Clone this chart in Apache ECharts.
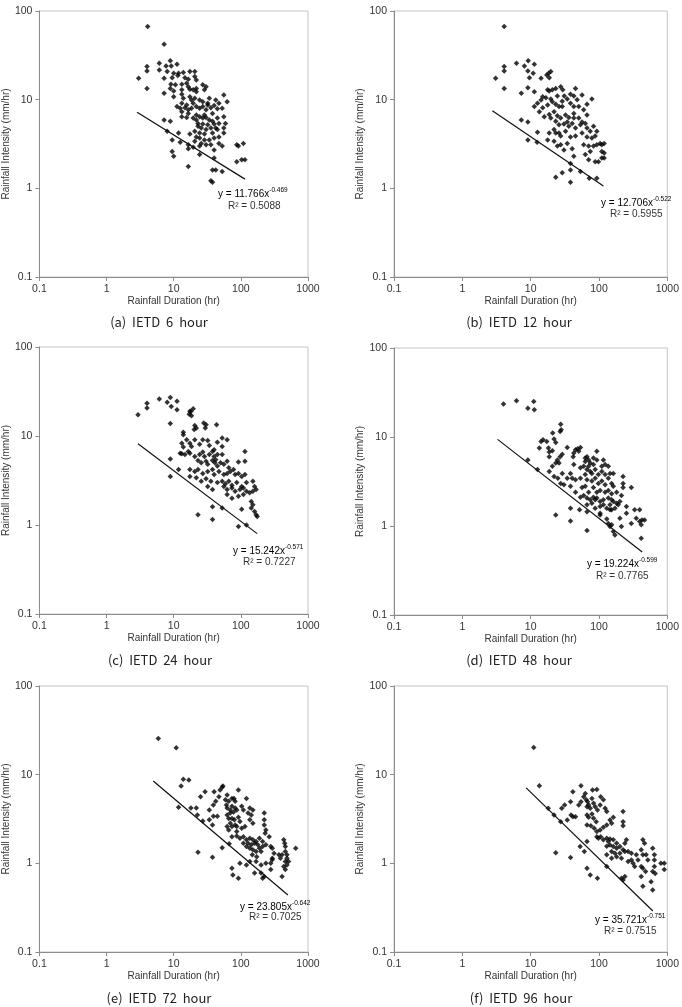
<!DOCTYPE html>
<html><head><meta charset="utf-8">
<script src="https://cdn.jsdelivr.net/npm/echarts@6/dist/echarts.min.js"></script>
<style>html,body{margin:0;padding:0;background:#fff;}#c{width:682px;height:1007px;}</style>
</head><body><div id="c"></div>
<script>
// ---- tick labels / texts ----
const xTicks = [0.1, 1, 10, 100, 1000];
const yTicks = [0.1, 1, 10, 100];
const xTitle = 'Rainfall Duration (hr)';
const yTitle = 'Rainfall Intensity (mm/hr)';
const captions = ['(a)  IETD  6  hour', '(b)  IETD  12  hour', '(c)  IETD  24  hour', '(d)  IETD  48  hour', '(e)  IETD  72  hour', '(f)  IETD  96  hour'];
const eqCoef = ['11.766', '12.706', '15.242', '19.224', '23.805', '35.721'];
const eqExp = ['-0.469', '-0.522', '-0.571', '-0.599', '-0.642', '-0.751'];
const r2 = ['0.5088', '0.5955', '0.7227', '0.7765', '0.7025', '0.7515'];

// ---- series values [duration (hr), intensity (mm/hr)] ----
const ietd6 = [[4.1,66.7],[7.2,42.2],[6.1,25.7],[6.1,21.6],[4.0,23.6],[4.0,21.1],[3.0,17.4],[4.0,13.4],[7.2,17.4],[7.2,11.8],
[8.9,27.4],[11.2,25.1],[7.7,24.0],[9.2,24.0],
[8.0,20.8],[10.0,19.9],[11.8,19.9],[13.9,20.2],[17.4,20.8],[20.6,20.8],[9.5,17.7],[11.5,18.7],[14.7,17.7],[16.5,17.0],[20.6,18.2],[21.7,16.7],
[9.1,14.9],[10.6,14.7],[13.2,14.9],[15.6,15.3],[16.5,14.0],[17.4,13.1],[19.5,12.9],[21.7,13.4],[27.1,14.7],[30.3,14.0],[28.7,12.9],[8.9,13.4],[10.0,12.5],[13.2,12.9],[21.7,12.3],
[10.0,10.8],[13.2,11.5],[13.9,10.4],[17.4,10.8],[18.4,9.9],[20.6,10.4],[24.3,9.9],[27.1,9.5],[32.1,9.1],[33.9,10.4],[42.3,9.9],[47.2,9.1],[55.8,11.3],[62.4,9.5],[13.2,9.1],[15.6,8.7],[19.5,9.1],
[11.2,8.4],[12.5,8.0],[14.7,8.1],[16.5,7.7],[18.4,8.0],[21.7,8.4],[24.3,8.0],[27.1,8.4],[30.3,7.7],[32.1,8.7],[35.8,8.1],[40.0,8.6],[44.7,7.9],[52.7,8.0],[13.2,7.3],[16.5,7.0],[21.7,6.7],[28.7,6.7],[37.8,7.0],
[13.2,6.4],[15.6,6.3],[19.5,6.2],[21.7,5.9],[24.3,6.4],[27.1,6.2],[30.3,6.3],[33.9,5.9],[37.8,5.7],[44.7,6.2],[55.8,6.4],[23.0,5.4],[27.1,5.3],[32.1,5.2],[40.0,5.3],[47.2,5.4],[59.0,5.4],
[23.0,5.0],[25.7,4.8],[30.3,4.6],[35.8,4.8],[42.3,4.8],[44.7,4.6],[55.8,4.8],[20.6,4.4],[24.3,4.2],[28.7,4.1],[37.8,4.2],[55.8,4.2],[11.8,4.2],[17.4,4.1],[8.9,5.7],[7.2,5.9],[8.0,4.4],
[21.7,3.8],[24.3,3.7],[28.7,3.5],[33.9,3.5],[40.0,3.7],[47.2,3.8],[20.6,3.4],[25.7,3.2],[30.3,3.1],[35.8,3.1],[47.2,3.2],[52.7,3.0],[24.3,3.0],[9.5,3.5],[12.5,3.3],[16.5,3.1],[19.5,2.9],
[9.5,2.6],[10.0,2.3],[16.5,2.8],[16.5,1.76],[24.3,2.4],[40.0,2.7],[40.0,2.2],[37.8,1.61],[42.3,1.61],[52.7,1.55],[35.8,1.22],[37.8,1.17],[86.9,3.1],[109,3.2],[91.8,3.0],[103,2.1],[115,2.1],[86.9,2.0]];

const ietd12 = [[4.1,66.7],[4.1,23.6],[4.1,21.1],[3.07,17.4],[4.1,13.4],[6.2,25.7],
[8.1,24.0],[9.2,27.4],[9.1,21.1],[11.3,25.1],[10.9,19.9],[9.6,17.7],[9.1,13.6],[7.3,11.8],
[14.2,17.4],[17.2,19.0],[18.7,17.7],[18.3,19.9],[19.7,20.8],
[11.3,12.3],[15.0,10.8],[14.2,9.9],[17.7,12.9],[20.8,12.9],[18.7,12.5],[23.3,13.4],[27.5,14.0],[29.5,12.9],[45.3,13.4],[31.0,11.0],
[11.3,8.4],[12.6,9.1],[15.0,8.1],[17.7,8.7],[20.8,9.5],[23.3,8.9],[26.0,8.4],[29.0,9.6],[34.3,10.2],[38.3,9.1],[42.8,8.4],[47.9,10.0],[56.5,11.3],[66.7,8.9],[78.7,10.2],
[13.4,7.3],[15.8,6.4],[18.7,6.8],[22.0,7.3],[24.6,6.6],[27.5,6.2],[32.4,6.7],[36.2,6.3],[42.8,7.0],[50.6,6.2],[59.7,7.7],[66.7,6.7],
[7.3,5.9],[9.1,5.6],
[23.3,5.7],[26.0,5.2],[30.7,5.3],[36.2,5.0],[40.5,5.4],[45.3,4.8],[53.5,5.2],[66.7,4.8],[83.2,5.0],[92.9,4.4],
[18.7,4.2],[23.3,4.2],[27.5,3.9],[32.4,4.4],[38.3,3.8],[45.3,3.9],[56.5,4.2],[66.7,3.8],[78.7,3.7],[87.9,3.9],[104,3.2],[110,3.1],
[12.6,4.3],[9.1,3.5],[12.4,3.3],
[17.7,3.5],[22.0,3.4],[24.6,3.0],[27.5,3.1],[34.3,3.2],[40.5,2.8],[59.7,3.1],[70.5,3.0],[83.2,3.0],[92.9,3.1],[74.5,2.6],[63.1,2.4],[70.5,2.1],[87.9,2.0],[110,2.2],[110,2.6],
[30.7,2.7],[42.8,2.3],[38.3,1.9],[98.2,2.0],
[23.3,1.33],[29,1.50],[38.3,1.61],[38.3,1.17],[53.5,1.55],[72,1.3],[92.9,1.30],[119,3.2],[119,2.5],[119,2.2],
[16.7,10.5],[19.7,10.2],[24.6,11.0],[38.3,11.5],[42.8,11.0],[50.6,8.4],[56.5,5.6],[63.1,5.4],[74.5,4.4],[34.3,5.6],[26.0,4.2],[22.0,4.6],[29.0,8.4],[19.7,6.2],[42.8,6.2]];

const ietd24 = [[2.94,17.3],[4.0,23.3],[4.0,20.6],[6.1,26.0],
[8.0,24.0],[8.9,27.0],[9.2,21.5],[11.2,24.5],[11.2,19.7],[8.9,13.8],
[17.0,17.5],[18.0,18.8],[19.5,20.2],[18.4,16.9],[17.4,19.0],
[13.9,11.0],[13.9,10.3],[15.6,9.1],[20.6,13.1],[21.7,12.3],[20.2,11.8],[28.0,14.0],[30.3,13.4],[29.5,12.3],[43.5,13.4],
[13.2,8.3],[13.9,7.5],[17.4,8.3],[18.4,7.6],[16.5,6.7],[20.6,9.1],[24.3,8.1],[27.1,9.1],[32.1,8.9],[33.9,7.8],[40.0,7.0],[44.7,8.5],[52.7,9.5],[52.7,7.6],[62.4,9.1],
[12.5,6.4],[13.2,6.3],[14.7,6.2],[17.4,6.4],[20.6,5.9],[24.3,6.2],[27.1,6.6],[28.7,5.9],[33.9,6.2],[37.8,6.7],[40.0,5.9],[44.7,6.2],[52.7,6.2],
[23.0,5.3],[25.7,5.0],[30.3,5.2],[32.1,4.8],[37.8,5.3],[41,5.0],[42.3,5.4],[44.7,4.6],[49.9,5.0],[55.8,4.8],[62.4,5.2],[66,4.4],[77.8,4.2],[92,5.1],[115,5.2],[115,6.7],
[8.9,5.5],[11.8,4.2],
[17.4,4.2],[20.6,4.0],[23,4.2],[27.1,3.8],[32.1,4.0],[37.8,4.2],[40,3.7],[47.2,4.0],[55.8,3.7],[62.4,3.8],[69.7,4.0],[82.2,3.7],[92,3.8],[103,3.5],[115,3.7],
[8.9,3.5],
[17.4,3.5],[21.7,3.4],[25.7,3.1],[30.3,3.3],[35.8,3.1],[44.7,3.0],[52.7,3.1],[59,2.9],[66,3.1],[73.6,2.8],[86.9,3.0],[103,2.7],[121,3.0],[151,3.1],[160,2.7],
[32.1,2.7],[37.8,2.5],[55.8,2.7],[62.4,2.5],[73.6,2.6],[82.2,2.4],[97,2.5],[109,2.6],[121,2.4],[135,2.3],[151,2.4],[169,2.5],
[62.4,2.2],[73.6,2.0],[92,2.1],[109,2.2],[143,1.84],[151,1.69],[143,1.55],[160,1.42],[169,1.30],
[23,1.30],[37.8,1.60],[37.8,1.15],[52.7,1.55],[92,0.96],[103,1.5],[121,1.0],[175,1.25]];

const ietd48 = [[4.0,23.5],[6.2,25.6],[9.1,21.1],[11.1,25.0],[11.3,20.2],
[27.5,13.9],[28,12.1],[27,11.5],
[21,11.1],[22,9.5],[15.2,9.3],[14.2,8.9],[17.2,8.9],[23.3,8.7],[13.4,7.5],[18.2,7.5],[18.7,6.8],[20.8,7.0],[18.7,6.0],
[34.3,7.6],[29,6.4],[27,6.0],[24.6,5.5],[23.3,5.1],[26,5.1],[20.8,4.7],[29,3.9],[22,3.6],[25,3.45],[18.7,4.1],[12.6,4.3],
[9.1,5.5],
[27.5,3.0],[34.3,3.45],
[42.8,6.6],[45.3,7.2],[48.7,7.4],[53.5,7.6],[50.6,6.9],[41.9,6.0],
[63,5.8],[66.7,6.0],[70.5,5.5],[63,5.3],[74.5,5.1],[83,5.8],[92.9,6.9],[83,4.9],[92.9,5.5],[110,4.7],[123,4.9],[137,4.7],[116,5.5],
[42.8,4.9],[53.5,4.5],[59.7,4.7],[66.7,4.3],[74.5,4.1],[70.5,4.7],[63,3.8],[78.7,3.9],[87.9,4.3],[98,3.8],[110,4.1],[123,3.8],[145,3.9],[162,3.9],
[38.3,3.9],[40.5,3.45],[45.3,3.3],[53.5,3.45],[66.7,3.3],[78.7,3.2],[87.9,3.45],[98,3.0],[110,3.2],[123,2.9],[137,3.45],[153,3.0],[162,2.8],
[30.7,2.9],[38.3,2.8],[45.3,2.4],[56.5,2.7],[63,2.8],[70.5,2.4],[83,2.7],[92.9,2.4],[104,2.5],[123,2.4],[137,2.5],[153,2.3],[181,2.4],[225,3.6],[225,3.0],[225,2.7],[297,2.7],
[53.5,2.1],[59.7,2.2],[66.7,2.06],[74.5,1.97],[83,2.1],[88,1.97],[93,2.06],[104,1.88],[116,1.97],[137,2.06],[153,1.97],[162,1.88],[181,1.80],[202,1.88],[213,2.2],
[66.7,1.73],[78.7,1.80],[88,1.58],[104,1.66],[116,1.73],[130,1.58],[145,1.73],[153,1.52],[171,1.58],[191,1.73],[252,1.66],[332,1.52],[393,1.52],[252,1.39],
[38.3,1.58],[52,1.52],[66.7,1.45],[104,1.39],[145,1.52],
[23.3,1.33],[38.3,1.14],[66.7,0.89],
[104,1.33],[130,1.2],[137,1.07],[145,0.99],[153,1.03],[162,0.87],[171,0.79],[202,1.22],[213,0.99],
[297,1.07],[351,1.22],[393,1.12],[415,1.03],[425,1.17],[464,1.17],[415,0.73]];

const ietd72 = [[5.9,25.6],[10.9,20.1],
[13.9,8.85],[16.8,8.7],[12.9,7.45],
[11.8,4.3],[18.0,4.2],[21.7,4.2],[22.5,3.5],
[25.1,5.65],[29.3,6.4],[40,6.4],[49,6.7],[52.7,7.2],[54,7.45],[47.2,5.65],[42.3,5.0],[39,4.55],[33.9,3.1],[27.1,3.0],[39,3.4],[44.7,3.4],[37.8,2.71],[33.9,4.0],
[62.4,5.9],[59,5.2],[65.9,5.0],[61,4.55],[73.6,5.4],[79,5.4],[91.8,6.7],[82.2,5.0],
[62.4,4.2],[69.7,4.0],[73.6,4.4],[82.2,4.2],[62.4,3.5],[69.7,3.7],[77.8,3.8],[86.9,4.0],[65.9,3.2],[73.6,3.2],[80,3.1],[91.8,3.3],[103,4.4],[109,4.0],[121,5.4],[136,4.2],[128,3.7],[151,4.0],
[69.7,2.83],[73.6,2.6],[82.2,2.71],[86.9,2.6],[97,2.96],[103,2.49],[115,2.6],[62.4,2.6],[65.9,2.38],[86.9,2.28],[143,3.5],[136,3.1],[151,2.83],
[73.6,2.0],[86.9,2.03],[97,1.92],[109,2.0],[121,1.84],[136,1.92],[151,1.84],[169,1.76],[128,1.69],[143,1.62],[160,1.69],[179,1.62],[189,1.92],[109,1.69],[121,1.55],
[136,1.48],[151,1.42],[169,1.36],[189,1.48],[211,1.55],[236,1.62],[148,1.25],[172,1.19],[200,1.36],
[223,3.7],[223,3.1],[223,2.71],[236,2.38],[230,2.19],[264,2.0],[279,1.55],[211,1.76],
[294,1.48],[312,1.30],[294,1.14],[279,1.0],[236,1.0],[200,0.96],[169,1.05],[294,1.10],
[368,1.25],[411,1.25],[435,1.84],[450,1.69],[459,1.55],[459,1.36],[486,1.25],[486,1.14],[459,1.05],[486,0.96],[435,0.92],[459,0.85],[411,0.71],[389,1.14],[513,1.05],
[655,1.48],
[23,1.33],[37.8,1.17],[52.7,1.5],[67,1.66],
[73.6,0.88],[76,0.74],[91.8,0.68],[97,1.0],[121,0.96],[136,1.05],[160,0.78],[200,0.78],[211,0.68],[223,0.71],[279,0.85]];

const ietd96 = [[11.1,20.3],[13.4,7.5],
[18.1,4.17],[22,3.51],[27.5,2.95],[28.5,4.17],[31.4,4.55],[38.4,4.96],[39,3.51],[41.5,3.36],[45.3,3.36],[50.6,4.55],[54.5,4.96],[54.5,7.5],[41.5,6.4],[34.3,3.08],[23.3,1.32],[38.4,1.16],[53,1.55],[61,1.36],[66.7,1.76],
[59.7,5.65],[63,6.15],[65,5.2],[68,4.96],[70.5,4.55],[74.5,4.17],[66.7,4.36],[78.8,5.4],[80.5,6.7],[93,6.8],[83.3,4.75],[88,4.36],[95,4.0],[104,4.55],[106,5.65],[116,5.2],[123,4.17],[130,3.83],
[66.7,3.51],[70.5,3.3],[78.8,3.6],[83.3,3.22],[91,2.95],[66.7,2.71],[76,2.65],[85,2.48],[93,2.28],[104,2.38],[116,2.55],[130,2.71],[145,3.08],[153,2.83],[162,3.3],
[93,2.0],[98,1.92],[106,2.0],[116,1.84],[130,1.92],[137,1.76],[145,1.88],[162,1.84],[181,1.69],[202,1.55],[225,1.42],[225,3.83],[225,2.95],[225,2.65],
[145,1.61],[162,1.55],[181,1.48],[130,1.56],[153,1.36],[171,1.30],[202,1.30],[239,1.36],[267,1.36],[298,1.30],[239,1.69],[252,1.84],
[130,1.25],[153,1.14],[181,1.19],[213,1.14],[267,1.05],[298,1.09],[315,1.0],[352,1.25],[372,1.09],[333,0.92],
[439,1.84],[464,1.69],[415,1.42],[439,1.25],[490,1.25],[518,1.09],[415,0.92],[439,0.88],[480,0.81],[611,1.48],[646,1.25],[646,1.09],[646,0.92],[611,0.81],[664,0.77],[807,1.0],[901,1.0],[901,0.85],
[66.7,0.88],[74.5,0.74],[95,0.68],[130,0.92],[213,0.68],[225,0.65],[239,0.71],[415,0.71],[439,0.55],[578,0.62],[611,0.50]];

// trend line end points
const trend6 = [[2.85,7.2],[115,1.27]];
const trend12 = [[2.75,7.5],[116,1.06]];
const trend24 = [[2.94,8.2],[175,0.80]];
const trend48 = [[3.28,9.4],[429,0.51]];
const trend72 = [[4.96,8.5],[502,0.44]];
const trend96 = [[8.6,7.1],[614,0.29]];

const scatterData = [ietd6, ietd12, ietd24, ietd48, ietd72, ietd96];
const trendData = [trend6, trend12, trend24, trend48, trend72, trend96];

// ---- layout (pixels) ----
const grids = [
  {left:32, top:11, width:276, height:266},
  {left:394, top:11, width:278, height:266},
  {left:32, top:347, width:276, height:267},
  {left:394, top:348, width:278, height:267},
  {left:32, top:686, width:276, height:266},
  {left:394, top:686, width:278, height:266}
];
const eqPos = [[218,193,228,207],[601,202,610,215],[233,550,243,563],[587,563,596,577],[240,906,249,918],[595,919,604,932]];
const capPos = [[159,322],[519,322],[160,660],[519,660],[159,998],[521,998]];

const FONT = '"Liberation Sans", Arial, sans-serif';
const AX = '#8c8c8c';
const TXT = '#333';

const option = {
  animation: false,
  backgroundColor: '#fff',
  grid: grids.map(g => Object.assign({show:true, borderColor:'#c4c4c4', borderWidth:1, backgroundColor:'#fff'}, g)),
  xAxis: grids.map((g,i) => ({
    type:'log', logBase:10, min:xTicks[0], max:xTicks[xTicks.length-1], gridIndex:i,
    name:xTitle, nameLocation:'middle', nameGap:18,
    nameTextStyle:{fontFamily:FONT, fontSize:10, color:TXT},
    axisLine:{show:true, lineStyle:{color:AX, width:1}},
    axisTick:{show:true, inside:false, length:4, lineStyle:{color:AX}},
    axisLabel:{fontFamily:FONT, fontSize:10.5, color:TXT, margin:7, formatter: v => String(v)},
    splitLine:{show:false}
  })),
  yAxis: grids.map((g,i) => ({
    type:'log', logBase:10, min:yTicks[0], max:yTicks[yTicks.length-1], gridIndex:i,
    name:yTitle, nameLocation:'middle', nameGap:24,
    nameTextStyle:{fontFamily:FONT, fontSize:10, color:TXT},
    axisLine:{show:true, lineStyle:{color:AX, width:1}},
    axisTick:{show:true, inside:false, length:4, lineStyle:{color:AX}},
    axisLabel:{fontFamily:FONT, fontSize:10.5, color:TXT, margin:7, formatter: v => String(v)},
    splitLine:{show:false}
  })),
  series: [].concat(
    scatterData.map((d,i) => ({
      type:'scatter', xAxisIndex:i, yAxisIndex:i, data:d,
      symbol:'diamond', symbolSize:5.5, itemStyle:{color:'#000'}, silent:true
    })),
    trendData.map((d,i) => ({
      type:'line', xAxisIndex:i, yAxisIndex:i, data:d,
      symbol:'none', lineStyle:{color:'#111', width:1.2}, silent:true, z:3
    }))
  ),
  graphic: [].concat(
    eqPos.map((p,i) => ({
      type:'text', left:p[0], top:p[1]-6,
      style:{
        text:'{m|y = ' + eqCoef[i] + 'x}{s|' + eqExp[i] + '}',
        rich:{
          m:{fontFamily:FONT, fontSize:10, color:TXT, lineHeight:12, verticalAlign:'bottom'},
          s:{fontFamily:FONT, fontSize:6.5, color:TXT, lineHeight:7, verticalAlign:'top'}
        }
      }
    })),
    eqPos.map((p,i) => ({
      type:'text', left:p[2], top:p[3]-6,
      style:{text:'R\u00b2 = ' + r2[i], fontFamily:FONT, fontSize:10, fill:TXT}
    })),
    capPos.map((p,i) => ({
      type:'text', x:p[0], y:p[1],
      style:{text:captions[i], fontFamily:'"Noto Sans CJK KR", "Noto Sans", sans-serif', fontSize:13, fill:'#222', align:'center', verticalAlign:'middle'}
    }))
  )
};

const chart = echarts.init(document.getElementById('c'), null, {renderer:'canvas'});
chart.setOption(option);
</script>
</body></html>
